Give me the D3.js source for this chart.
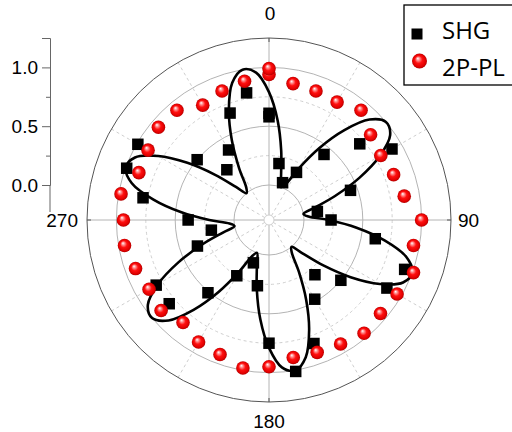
<!DOCTYPE html>
<html>
<head>
<meta charset="utf-8">
<script src="https://cdn.jsdelivr.net/npm/d3@7"></script>
<style>
  html, body { margin: 0; padding: 0; background: #fff; }
  svg { display: block; }
</style>
</head>
<body>
<svg id="chart" width="512" height="432"></svg>
<script>
// ---- data ----
const angles = [0,10,20,30,40,50,60,70,80,90,100,110,120,130,140,150,160,170,180,
                190,200,210,220,230,240,250,260,270,280,290,300,310,320,330,340,350,360];
const shg = [0.61,0.19,0.04,0.17,0.43,0.71,0.91,0.44,0.12,0.23,0.62,0.93,0.86,0.50,0.31,0.48,0.82,1.01,0.75,
             0.27,0.09,0.25,0.51,0.81,0.81,0.35,0.20,0.39,0.79,0.99,0.99,0.50,0.26,0.39,0.67,0.80,0.58];
const pl = [0.94,0.88,0.87,0.86,0.92,0.83,0.80,0.83,0.87,1.00,0.95,1.01,0.96,0.94,0.96,0.92,0.90,0.89,0.95,
            0.98,0.92,0.90,0.84,0.90,0.88,0.91,0.95,0.94,0.98,0.88,0.89,0.93,0.92,0.83,0.87,0.90,0.99];
// fitted curve, read every 5 degrees (0..355)
const fitAngles = d3.range(0, 360, 5);
const fitValues = [
  0.79,0.55,0.30,0.10,0.00,0.04,0.21,0.45,0.70,0.91,1.00,0.96,
  0.79,0.55,0.30,0.10,0.00,0.04,0.21,0.45,0.70,0.91,1.00,0.96,
  0.79,0.55,0.30,0.10,0.00,0.04,0.21,0.45,0.70,0.91,1.00,0.96,
  0.79,0.55,0.30,0.10,0.00,0.04,0.21,0.45,0.70,0.91,1.00,0.96,
  0.79,0.55,0.30,0.10,0.00,0.04,0.21,0.45,0.70,0.91,1.00,0.96,
  0.79,0.55,0.30,0.10,0.00,0.04,0.21,0.45,0.70,0.91,1.00,0.96
];
const radialTicks = [0, 0.5, 1.0];
const radialMinor = [0.25, 0.75, 1.25];
const angleLabels = [0, 90, 180, 270];
const seriesNames = ["SHG", "2P-PL"];

// ---- layout ----
const svg = d3.select("#chart");
const cx = 269, cy = 220;
const rMax = 1.25;
const r = d3.scaleLinear().domain([0, rMax]).range([35, 182]);
const toRad = d => d * Math.PI / 180;
const px = (deg, v) => cx + r(v) * Math.sin(toRad(deg));
const py = (deg, v) => cy - r(v) * Math.cos(toRad(deg));

const defs = svg.append("defs");
const grad = defs.append("radialGradient").attr("id", "ball")
  .attr("cx", "0.5").attr("cy", "0.5").attr("r", "0.5")
  .attr("fx", "0.38").attr("fy", "0.32");
grad.append("stop").attr("offset", "0%").attr("stop-color", "#ffffff");
grad.append("stop").attr("offset", "22%").attr("stop-color", "#ff9090");
grad.append("stop").attr("offset", "50%").attr("stop-color", "#ff1010");
grad.append("stop").attr("offset", "85%").attr("stop-color", "#e00000");
grad.append("stop").attr("offset", "100%").attr("stop-color", "#b00000");

const g = svg.append("g");

// grid circles
const gridVals = [0.25, 0.5, 0.75, 1.0];
g.selectAll("circle.grid").data(gridVals).enter().append("circle")
  .attr("cx", cx).attr("cy", cy).attr("r", d => r(d))
  .attr("fill", "none")
  .attr("stroke", d => (d === 0.5 || d === 1.0) ? "#b4b4b4" : "#cfcfcf")
  .attr("stroke-width", 1)
  .attr("stroke-dasharray", d => (d === 0.5 || d === 1.0) ? null : "3,3");

// spokes
const spokeAngles = d3.range(0, 360, 30);
g.selectAll("line.spoke").data(spokeAngles).enter().append("line")
  .attr("x1", d => cx + 5 * Math.sin(toRad(d)))
  .attr("y1", d => cy - 5 * Math.cos(toRad(d)))
  .attr("x2", d => px(d, rMax))
  .attr("y2", d => py(d, rMax))
  .attr("stroke", d => d % 90 === 0 ? "#b4b4b4" : "#cfcfcf")
  .attr("stroke-width", 1)
  .attr("stroke-dasharray", d => d % 90 === 0 ? null : "3,3");

// inner circle (r=0) and center dot circle
g.append("circle").attr("cx", cx).attr("cy", cy).attr("r", r(0))
  .attr("fill", "none").attr("stroke", "#b4b4b4").attr("stroke-width", 1);
g.append("circle").attr("cx", cx).attr("cy", cy).attr("r", 5)
  .attr("fill", "none").attr("stroke", "#cfcfcf").attr("stroke-width", 1);

// outer circle
g.append("circle").attr("cx", cx).attr("cy", cy).attr("r", r(rMax))
  .attr("fill", "none").attr("stroke", "#555").attr("stroke-width", 1);

// angular ticks (inward, at labelled angles)
g.selectAll("line.atick").data(angleLabels).enter().append("line")
  .attr("x1", d => px(d, rMax)).attr("y1", d => py(d, rMax))
  .attr("x2", d => cx + (r(rMax) - 4) * Math.sin(toRad(d)))
  .attr("y2", d => cy - (r(rMax) - 4) * Math.cos(toRad(d)))
  .attr("stroke", "#555").attr("stroke-width", 1);

// angular labels
const labelFont = "'Liberation Sans', Arial, sans-serif";
const lab = g.append("g").attr("font-family", labelFont).attr("font-size", 19).attr("fill", "#000");
lab.append("text").attr("x", cx + 1).attr("y", 20).attr("text-anchor", "middle").text(angleLabels[0]);
lab.append("text").attr("x", 458).attr("y", 227).attr("text-anchor", "start").text(angleLabels[1]);
lab.append("text").attr("x", cx).attr("y", 428).attr("text-anchor", "middle").text(angleLabels[2]);
lab.append("text").attr("x", 78).attr("y", 227).attr("text-anchor", "end").text(angleLabels[3]);

// radial axis (vertical, on the left)
const axisX = 50;
const yRad = d3.scaleLinear().domain([0, rMax]).range([cy - r(0), cy - r(rMax)]);
const axG = svg.append("g").attr("transform", `translate(${axisX},0)`);
axG.call(d3.axisLeft(yRad).tickValues(radialTicks).tickSize(8).tickPadding(4)
  .tickFormat(d3.format(".1f")));
axG.append("line").attr("x1", 0).attr("x2", 0).attr("y1", yRad(0)).attr("y2", 212)
  .attr("stroke", "#666").attr("stroke-width", 1);
const axMinor = svg.append("g").attr("transform", `translate(${axisX},0)`);
axMinor.call(d3.axisLeft(yRad).tickValues(radialMinor).tickSize(4).tickFormat(""));
axMinor.select(".domain").remove();
[axG, axMinor].forEach(a => {
  a.selectAll("path.domain").attr("stroke", "#666");
  a.selectAll(".tick line").attr("stroke", "#666");
});
axG.selectAll(".tick text").attr("font-family", labelFont).attr("font-size", 19).attr("fill", "#000");

// fitted curve
const line = d3.lineRadial()
  .angle((d, i) => toRad(fitAngles[i]))
  .radius(d => r(d))
  .curve(d3.curveCatmullRomClosed.alpha(0.5));
svg.append("path")
  .attr("transform", `translate(${cx},${cy})`)
  .attr("d", line(fitValues))
  .attr("fill", "none").attr("stroke", "#000").attr("stroke-width", 2.6);

// SHG squares
const sq = 11.5;
svg.append("g").selectAll("rect").data(shg).enter().append("rect")
  .attr("x", (d, i) => px(angles[i], d) - sq / 2)
  .attr("y", (d, i) => py(angles[i], d) - sq / 2)
  .attr("width", sq).attr("height", sq).attr("fill", "#000");

// 2P-PL spheres
svg.append("g").selectAll("circle").data(pl).enter().append("circle")
  .attr("cx", (d, i) => px(angles[i], d))
  .attr("cy", (d, i) => py(angles[i], d))
  .attr("r", 6.8).attr("fill", "url(#ball)");

// legend
const leg = svg.append("g");
leg.append("rect").attr("x", 404).attr("y", 5).attr("width", 120).attr("height", 80)
  .attr("fill", "#fff").attr("stroke", "#000").attr("stroke-width", 1.3);
leg.append("rect").attr("x", 411.5).attr("y", 28.5).attr("width", 11).attr("height", 11).attr("fill", "#000");
leg.append("circle").attr("cx", 419.5).attr("cy", 61).attr("r", 7.5).attr("fill", "url(#ball)");
const legFont = "'Open Sans', 'Noto Sans', sans-serif";
leg.append("text").attr("x", 442).attr("y", 39).attr("font-family", legFont).attr("font-size", 24)
  .text(seriesNames[0]);
leg.append("text").attr("x", 442).attr("y", 76).attr("font-family", legFont).attr("font-size", 24)
  .text(seriesNames[1]);
</script>
</body>
</html>
